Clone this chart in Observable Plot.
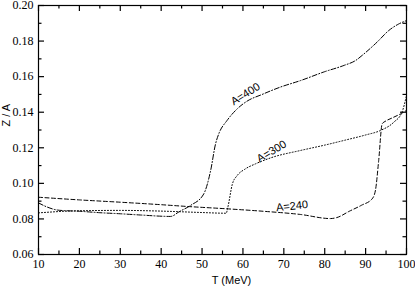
<!DOCTYPE html>
<html><head><meta charset="utf-8">
<script src="https://cdn.jsdelivr.net/npm/d3@7"></script>
<script src="https://cdn.jsdelivr.net/npm/@observablehq/plot@0.6"></script>
<style>body{margin:0;background:#fff}</style>
</head><body><div id="chart"></div>
<script>
// A=240 (dashed)
const T240 = [10, 20, 30, 40, 46.4, 56, 65, 74.1, 81.4, 83, 86, 89, 91.6, 92.4, 93.2, 94.05, 94.9, 96.5, 98.5, 100];
const Z240 = [0.0922, 0.0907, 0.0894, 0.0880, 0.0870, 0.0857, 0.0843, 0.0825, 0.0802, 0.0808, 0.0843, 0.0877, 0.0913, 0.0960, 0.1129, 0.1335, 0.1350, 0.1368, 0.1390, 0.1410];
// A=300 (dotted)
const T300 = [10, 20, 30, 40, 50, 55.9, 56.3, 57.4, 58.6, 60.5, 63.1, 67, 74.1, 80, 85, 90, 93.6, 96.9, 98.9, 100];
const Z300 = [0.0834, 0.0846, 0.0848, 0.0844, 0.0836, 0.0832, 0.0865, 0.0995, 0.1044, 0.1080, 0.1110, 0.1145, 0.1185, 0.1215, 0.1243, 0.1272, 0.1297, 0.1344, 0.1400, 0.1494];
// A=400 (dash-dot)
const T400 = [10, 12, 14.6, 17, 20, 25, 30, 35, 42.3, 44.5, 47.2, 50.4, 52.1, 53.3, 54.1, 56.1, 58.6, 61, 64.7, 69, 74.1, 80, 84.7, 87.5, 89.6, 92.8, 95.7, 98, 100];
const Z400 = [0.0890, 0.0868, 0.0850, 0.0846, 0.0843, 0.0835, 0.0829, 0.0822, 0.0814, 0.0842, 0.0876, 0.0940, 0.1072, 0.1222, 0.1279, 0.1353, 0.1419, 0.1462, 0.1500, 0.1540, 0.1578, 0.1628, 0.1663, 0.1690, 0.1728, 0.1794, 0.1860, 0.1895, 0.1915];

const xMajor = [10, 20, 30, 40, 50, 60, 70, 80, 90, 100];
const xMinor = [15, 25, 35, 45, 55, 65, 75, 85, 95];
const yMajor = [0.06, 0.08, 0.10, 0.12, 0.14, 0.16, 0.18, 0.20];
const yMinor = [0.07, 0.09, 0.11, 0.13, 0.15, 0.17, 0.19];

const labelText = ["A=400", "A=300", "A=240"];
const labelT = [60.6, 67.0, 72.0];
const labelZ = [0.1502, 0.1180, 0.0872];
const labelRot = [-32, -31, -6];

const toRows = (T, Z) => T.map((t, i) => ({t, z: Z[i]}));
const labels = labelText.map((s, i) => ({s, t: labelT[i], z: labelZ[i], r: labelRot[i]}));

const serif = "Liberation Serif, Times New Roman, serif";
const sans = "Liberation Sans, Arial, sans-serif";

const W = 415, H = 287, ML = 38, MR = 9, MT = 5, MB = 33;
const FW = W - ML - MR, FH = H - MT - MB;

// inward ticks on all four sides
const tickMarks = [];
for (const [vals, len] of [[xMajor, 6], [xMinor, 3.5]]) {
  tickMarks.push(Plot.ruleX(vals, {x: d => d, insetTop: FH - len, stroke: "#000", strokeWidth: 1.2}));
  tickMarks.push(Plot.ruleX(vals, {x: d => d, insetBottom: FH - len, stroke: "#000", strokeWidth: 1.2}));
}
for (const [vals, len] of [[yMajor, 6], [yMinor, 3.5]]) {
  tickMarks.push(Plot.ruleY(vals, {y: d => d, insetRight: FW - len, stroke: "#000", strokeWidth: 1.2}));
  tickMarks.push(Plot.ruleY(vals, {y: d => d, insetLeft: FW - len, stroke: "#000", strokeWidth: 1.2}));
}

const chart = Plot.plot({
  width: W,
  height: H,
  marginLeft: ML,
  marginRight: MR,
  marginTop: MT,
  marginBottom: MB,
  style: {background: "#fff", color: "#000", overflow: "visible"},
  x: {domain: [10, 100], axis: null},
  y: {domain: [0.06, 0.20], axis: null},
  marks: [
    Plot.line(toRows(T240, Z240), {x: "t", y: "z", curve: "monotone-x", stroke: "#000", strokeWidth: 1, strokeDasharray: "4,2.5"}),
    Plot.line(toRows(T300, Z300), {x: "t", y: "z", curve: "monotone-x", stroke: "#000", strokeWidth: 1, strokeDasharray: "1,2"}),
    Plot.line(toRows(T400, Z400), {x: "t", y: "z", curve: "monotone-x", stroke: "#000", strokeWidth: 1, strokeDasharray: "5,2,1,2"}),
    Plot.text(labels, {x: "t", y: "z", text: "s", rotate: "r", fontSize: 11, fontFamily: sans, fill: "#000"}),
    ...tickMarks,
    Plot.text(xMajor, {x: d => d, frameAnchor: "bottom", dy: 5, lineAnchor: "top", text: d => String(d), fontSize: 12, fontFamily: serif, fill: "#000"}),
    Plot.text(yMajor, {y: d => d, frameAnchor: "left", dx: -5, textAnchor: "end", lineAnchor: "middle", text: d3.format(".2f"), fontSize: 12, fontFamily: serif, fill: "#000"}),
    Plot.text(["T (MeV)"], {frameAnchor: "bottom", dx: 9, dy: 25.5, lineAnchor: "middle", fontSize: 11, fontFamily: sans, fill: "#000"}),
    Plot.text(["Z / A"], {frameAnchor: "left", dx: -32, dy: -3.5, rotate: -90, lineAnchor: "middle", fontSize: 11, fontFamily: sans, fill: "#000"}),
    Plot.frame({stroke: "#000", strokeWidth: 1.2})
  ]
});
document.getElementById("chart").appendChild(chart);
</script>
</body></html>
